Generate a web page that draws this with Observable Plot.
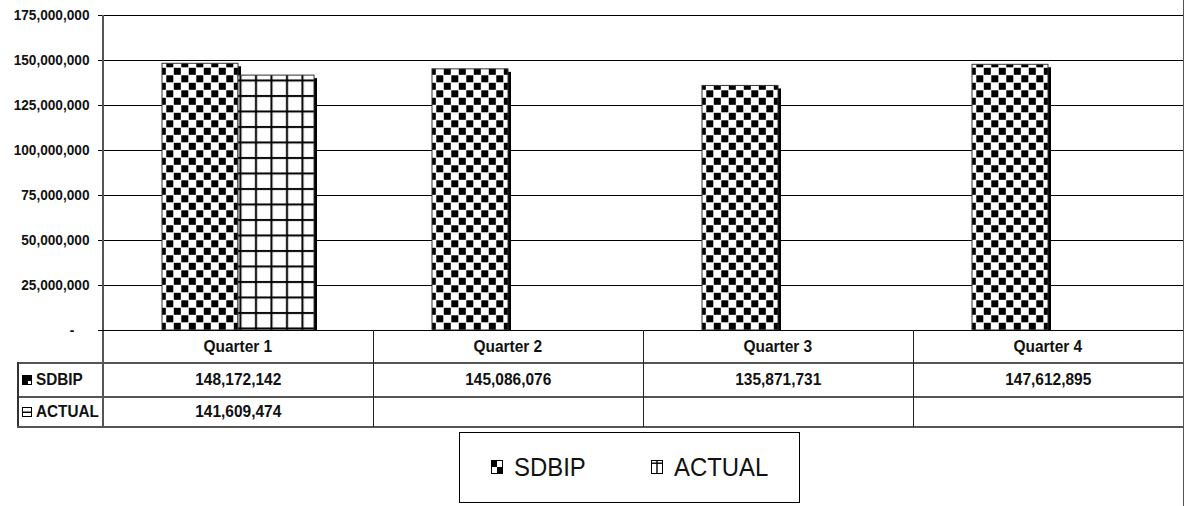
<!DOCTYPE html>
<html><head><meta charset="utf-8">
<script src="https://cdn.jsdelivr.net/npm/d3@7"></script>
<script src="https://cdn.jsdelivr.net/npm/@observablehq/plot@0.6"></script>
<style>
html,body{margin:0;padding:0;background:#fff;}
#wrap{position:relative;width:1186px;height:506px;overflow:hidden;font-family:"Liberation Sans",Arial,sans-serif;color:#111;}
#wrap > svg{position:absolute;left:0;top:0;}
.ln{position:absolute;}
.cell{position:absolute;display:flex;align-items:center;justify-content:center;font-weight:bold;font-size:17px;color:#111;white-space:nowrap;}
.cell .t{display:inline-block;transform:scaleX(0.91);transform-origin:center;}
.lab{justify-content:flex-start;font-size:17px;padding-left:5px;box-sizing:border-box;}
.lab .t{transform-origin:left center;transform:scaleX(0.9);}
.cell svg, .li svg{flex:none;}
.lab svg{margin-right:4px;}
#legend{position:absolute;border:1px solid #000;box-sizing:border-box;background:#fff;}
.li{position:absolute;display:flex;align-items:center;font-size:26px;color:#111;white-space:nowrap;}
.li .t{display:inline-block;transform:scaleX(0.92);transform-origin:left center;}
.li svg{margin-right:11px;}
</style></head><body><div id="wrap"></div>
<script>
const quarters = ["Quarter 1", "Quarter 2", "Quarter 3", "Quarter 4"];
const seriesNames = ["SDBIP", "ACTUAL"];
const sdbipValues = [148172142, 145086076, 135871731, 147612895];
const actualValues = [141609474, null, null, null];
const yTicks = [0, 25000000, 50000000, 75000000, 100000000, 125000000, 150000000, 175000000];

const rows = quarters.flatMap((q, i) => [
  {quarter: q, series: "SDBIP", value: sdbipValues[i]},
  {quarter: q, series: "ACTUAL", value: actualValues[i]}
]).filter(d => d.value != null);

const fmt = d3.format(",");
const FONT = '"Liberation Sans", Arial, sans-serif';

const plot = Plot.plot({
  width: 1186, height: 332,
  marginTop: 15, marginBottom: 2, marginLeft: 102, marginRight: 2,
  style: {fontFamily: FONT, background: "transparent", color: "#111", overflow: "visible"},
  fx: {domain: quarters, padding: 0, axis: null},
  x: {domain: seriesNames, paddingInner: 0, paddingOuter: 0.757, axis: null},
  y: {domain: [0, 175000000], axis: null},
  color: {domain: seriesNames, range: ["url(#pat-sdbip)", "url(#pat-actual)"]},
  marks: [
    Plot.ruleY(yTicks, {stroke: "#000", strokeWidth: 1}),
    Plot.axisY({ticks: yTicks, anchor: "left", tickSize: 5, tickPadding: 9, stroke: "#000", label: null,
      tickFormat: d => d === 0 ? "-\u00a0\u00a0\u00a0\u00a0" : fmt(d),
      fontWeight: "bold", fontSize: 15, fill: "#111"}),
    Plot.barY(rows, {fx: "quarter", x: "series", y: "value", fill: "#000", dx: 3, dy: 3, insetBottom: 3}),
    Plot.barY(rows, {fx: "quarter", x: "series", y: "value", fill: "series", stroke: "#333", strokeWidth: 1})
  ]
});

// patterns
const svg = d3.select(plot);
const defs = svg.insert("defs", ":first-child");
const p1 = defs.append("pattern").attr("id", "pat-sdbip").attr("patternUnits", "userSpaceOnUse")
  .attr("width", 15).attr("height", 15);
p1.append("rect").attr("width", 15).attr("height", 15).attr("fill", "#fff");
p1.append("rect").attr("x", 0.3).attr("y", 0.3).attr("width", 7).attr("height", 7).attr("fill", "#000");
p1.append("rect").attr("x", 7.8).attr("y", 7.8).attr("width", 7).attr("height", 7).attr("fill", "#000");
const p2 = defs.append("pattern").attr("id", "pat-actual").attr("patternUnits", "userSpaceOnUse")
  .attr("width", 15.5).attr("height", 15.5);
p2.append("rect").attr("width", 15.5).attr("height", 15.5).attr("fill", "#fff");
p2.append("rect").attr("x", 6).attr("y", 0).attr("width", 2).attr("height", 15.5).attr("fill", "#000");
p2.append("rect").attr("x", 0).attr("y", 2).attr("width", 15.5).attr("height", 2).attr("fill", "#000");

// condense tick labels horizontally
svg.selectAll('[aria-label="y-axis tick label"] text').each(function() {
  const t = this.getAttribute("transform") || "";
  this.setAttribute("transform", t + " scale(0.91,1)");
});

const wrap = document.getElementById("wrap");
wrap.appendChild(plot);

const fx = plot.scale("fx");
const ys = plot.scale("y");
const bw = fx.bandwidth;
const left = fx.apply(quarters[0]);
const right = fx.apply(quarters[quarters.length - 1]) + bw;
const yTop = ys.apply(175000000);
const y0 = ys.apply(0);
const rowH = [33, 34, 30];
const rowY = [y0, y0 + rowH[0], y0 + rowH[0] + rowH[1], y0 + rowH[0] + rowH[1] + rowH[2]];
const labelLeft = 17;

function line(x, y, w, h, c) {
  const d = document.createElement("div");
  d.className = "ln";
  Object.assign(d.style, {left: x + "px", top: y + "px", width: w + "px", height: h + "px", background: c});
  wrap.appendChild(d);
}
line(left - 1, yTop, 2, rowY[3] - yTop, "#555");
line(left - 3, y0 - 0.5, right - left + 3, 1.5, "#000");
line(labelLeft, rowY[1] - 1, right - labelLeft, 1.5, "#555");
line(labelLeft, rowY[2] - 1, right - labelLeft, 1.5, "#555");
line(labelLeft, rowY[3] - 1, right - labelLeft, 1.5, "#555");
line(labelLeft, rowY[1] - 1, 1.5, rowY[3] - rowY[1], "#333");
quarters.forEach((q, i) => { if (i > 0) line(fx.apply(q) - 0.5, y0, 1, rowY[3] - y0, "#222"); });
line(right - 0.5, 0, 1.5, 506, "#555");

function cell(x, y, w, h, icon, text, cls) {
  const d = document.createElement("div");
  d.className = "cell" + (cls ? " " + cls : "");
  Object.assign(d.style, {left: x + "px", top: y + "px", width: w + "px", height: h + "px"});
  d.innerHTML = icon + '<span class="t">' + text + '</span>';
  wrap.appendChild(d);
}
quarters.forEach((q, i) => {
  const x = fx.apply(q);
  cell(x, rowY[0], bw, rowH[0], "", q);
  cell(x, rowY[1], bw, rowH[1], "", sdbipValues[i] != null ? fmt(sdbipValues[i]) : "");
  cell(x, rowY[2], bw, rowH[2], "", actualValues[i] != null ? fmt(actualValues[i]) : "");
});
const iconS = '<svg width="10" height="10" viewBox="0 0 10 10"><rect x="0.5" y="0.5" width="9" height="9" fill="#000" stroke="#000"/><rect x="6" y="6" width="3" height="3" fill="#fff"/></svg>';
const iconA = '<svg width="10" height="10" viewBox="0 0 10 10"><rect x="0.5" y="0.5" width="9" height="9" fill="#fff" stroke="#000"/><rect x="0" y="4.5" width="10" height="1.5" fill="#000"/></svg>';
cell(labelLeft, rowY[1], left - labelLeft, rowH[1], iconS, seriesNames[0], "lab");
cell(labelLeft, rowY[2], left - labelLeft, rowH[2], iconA, seriesNames[1], "lab");

// legend
const lg = document.createElement("div");
lg.id = "legend";
Object.assign(lg.style, {left: "459px", top: "432px", width: "341px", height: "71px"});
wrap.appendChild(lg);
const legIconS = '<svg width="12" height="14" viewBox="0 0 12 14"><rect x="0.5" y="0.5" width="11" height="13" fill="#fff" stroke="#000"/><rect x="1" y="1" width="5" height="6" fill="#000"/><rect x="6" y="7" width="5" height="6" fill="#000"/></svg>';
const legIconA = '<svg width="12" height="14" viewBox="0 0 12 14"><rect x="0.5" y="0.5" width="11" height="13" fill="#fff" stroke="#000"/><rect x="5.3" y="0" width="1.4" height="14" fill="#000"/><rect x="0" y="2.5" width="12" height="1.4" fill="#000"/></svg>';
[31, 191].forEach((lx, i) => {
  const d = document.createElement("div");
  d.className = "li";
  Object.assign(d.style, {left: lx + "px", top: "19px", height: "30px"});
  d.innerHTML = (i === 0 ? legIconS : legIconA) + '<span class="t">' + seriesNames[i] + '</span>';
  lg.appendChild(d);
});
</script></body></html>
